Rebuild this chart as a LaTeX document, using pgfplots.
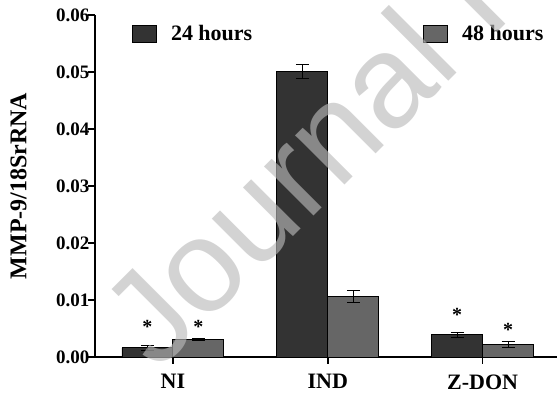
\documentclass[border=0pt]{standalone}
\usepackage{pgfplots}
\pgfplotsset{compat=1.18}
\usepackage{fontspec}
\setmainfont{Liberation Serif}
\setsansfont{Liberation Sans}
\definecolor{darkbar}{HTML}{333333}
\definecolor{lightbar}{HTML}{666666}
\definecolor{wm}{HTML}{BABABA}
\begin{document}
\begin{tikzpicture}
\begin{axis}[
  scale only axis, width=462pt, height=342pt,
  xmin=-0.503, xmax=2.48, ymin=0, ymax=0.06,
  axis x line=bottom, axis y line=left,
  axis line style={-, line width=2pt},
  xtick={0,1,2}, xticklabels={NI,IND,Z-DON},
  ytick={0,0.01,0.02,0.03,0.04,0.05,0.06},
  scaled y ticks=false,
  yticklabel style={/pgf/number format/fixed, /pgf/number format/fixed zerofill, /pgf/number format/precision=2},
  /pgf/number format/assume math mode=true,
  tick align=outside,
  major tick length=7pt,
  tick style={line width=1.5pt, black},
  xticklabel style={font=\fontsize{22}{24}\selectfont\bfseries, yshift=-7pt},
  yticklabel style={font=\fontsize{19}{20}\selectfont\bfseries, xshift=5pt},
  ylabel={MMP-9/18SrRNA},
  ylabel style={font=\fontsize{24}{26}\selectfont\bfseries, at={(axis description cs:-0.1656,0.5)}, anchor=center},
  legend columns=2,
  legend style={at={(axis description cs:0.0801,0.946)}, anchor=west, draw=none, fill=none, inner sep=0pt,
    nodes={inner sep=0pt, font=\fontsize{22}{24}\selectfont\bfseries},
    /tikz/every odd column/.append style={column sep=14pt},
    /tikz/every even column/.append style={column sep=171pt}},
  legend image code/.code={\draw[#1, line width=0.8pt] (0pt,-8.5pt) rectangle (24pt,8.5pt);},
]
\addplot[ybar, bar width=51pt, bar shift=0pt, fill=darkbar, draw=black, line width=0.8pt,
  error bars/.cd, y dir=both, y explicit,
  error bar style={line width=1pt, black},
  error mark options={rotate=90, mark size=6.5pt, line width=1pt, black}]
  table[x=x, y=y, y error=e] {
x y e
-0.1645 0.0016 0.0004
0.8355 0.0501 0.0013
1.8355 0.0039 0.0004
};
\addlegendentry{24 hours}
\addplot[ybar, bar width=51pt, bar shift=0pt, fill=lightbar, draw=black, line width=0.8pt,
  error bars/.cd, y dir=both, y explicit,
  error bar style={line width=1pt, black},
  error mark options={rotate=90, mark size=6.5pt, line width=1pt, black}]
  table[x=x, y=y, y error=e] {
x y e
0.1645 0.0031 0.0002
1.1645 0.0106 0.0011
2.1645 0.0022 0.0006
};
\addlegendentry{48 hours}
\begin{scope}[every node/.style={inner sep=0pt, anchor=base, yshift=-11pt, font=\fontsize{20}{20}\selectfont\bfseries}]
\node at (axis cs:-0.1645,0.0060) {*};
\node at (axis cs:0.1645,0.0060) {*};
\node at (axis cs:1.8355,0.0082) {*};
\node at (axis cs:2.1645,0.0056) {*};
\end{scope}
\coordinate (bl) at (rel axis cs:0,0);
\coordinate (tr) at (rel axis cs:1,1);
\end{axis}
\node[rotate=45, anchor=base west, inner sep=0pt, text=wm, opacity=0.63,
  font=\fontsize{132}{132}\selectfont\sffamily] at ([shift={(62pt,-16pt)}]bl) {Journal Pre-proof};
\pgfresetboundingbox
\path ([shift={(-95pt,-41pt)}]bl) rectangle ([shift={(0pt,15pt)}]tr);
\end{tikzpicture}
\end{document}
